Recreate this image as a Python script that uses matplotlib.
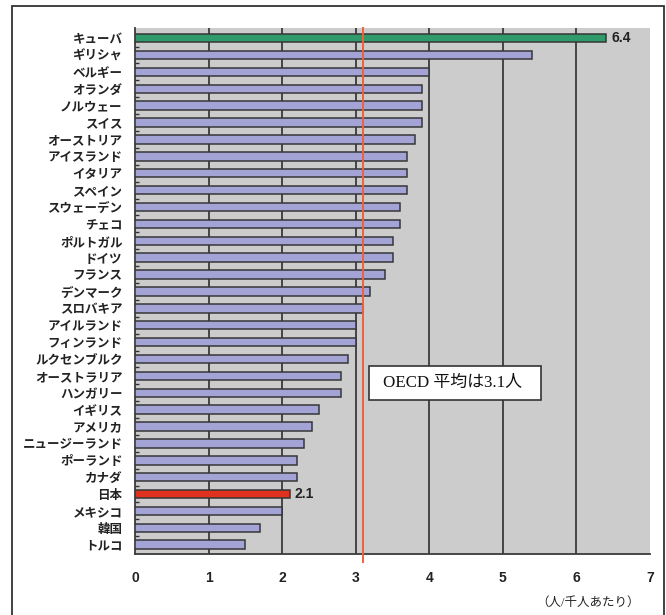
import matplotlib
matplotlib.use("Agg")
import matplotlib.pyplot as plt
from matplotlib.patches import Rectangle

plt.rcParams['font.family'] = ['Noto Sans CJK JP', 'DejaVu Sans']

countries = ["キューバ", "ギリシャ", "ベルギー", "オランダ", "ノルウェー", "スイス",
             "オーストリア", "アイスランド", "イタリア", "スペイン", "スウェーデン", "チェコ",
             "ポルトガル", "ドイツ", "フランス", "デンマーク", "スロバキア", "アイルランド",
             "フィンランド", "ルクセンブルク", "オーストラリア", "ハンガリー", "イギリス",
             "アメリカ", "ニュージーランド", "ポーランド", "カナダ", "日本", "メキシコ",
             "韓国", "トルコ"]
doctors = [6.4, 5.4, 4.0, 3.9, 3.9, 3.9, 3.8, 3.7, 3.7, 3.7, 3.6, 3.6, 3.5, 3.5, 3.4,
           3.2, 3.1, 3.0, 3.0, 2.9, 2.8, 2.8, 2.5, 2.4, 2.3, 2.2, 2.2, 2.1, 2.0, 1.7, 1.5]
oecd_avg = 3.1
x_ticks = [0, 1, 2, 3, 4, 5, 6, 7]
labelled = {"キューバ": "6.4", "日本": "2.1"}

colors = []
for c in countries:
    if c == "キューバ":
        colors.append("#2f9a6a")
    elif c == "日本":
        colors.append("#e0321e")
    else:
        colors.append("#a3a3d6")

fig = plt.figure(figsize=(6.66, 6.15), dpi=100)
ax = fig.add_axes([135 / 666, 61 / 615, 515 / 666, 526 / 615])
ax.set_facecolor("#cccccc")

pos = list(range(len(countries)))
ax.barh(pos, doctors, height=0.5, color=colors, edgecolor="#363636", linewidth=1.1, zorder=3)

for i, (c, v) in enumerate(zip(countries, doctors)):
    if c in labelled:
        ax.text(v + 0.07, i, labelled[c], va="center", ha="left", fontsize=10,
                fontweight="bold", family="Liberation Sans", color="#222222", zorder=4)

# average line, running a little below the axis
ax.plot([oecd_avg, oecd_avg], [-0.6, 31.05], color="#f0603a", linewidth=1.4,
        zorder=4, clip_on=False)

# note box for the average
ax.add_patch(Rectangle((3.18, 19.41), 2.34, 2.01, facecolor="white", edgecolor="#333333",
                       linewidth=1.2, zorder=5))
ax.text(4.32, 20.4, "OECD 平均は3.1人", ha="center", va="center", fontsize=12.2,
        family=["Liberation Serif", "Noto Sans CJK JP"], color="#111111", zorder=6)

ax.set_xlim(0, 7)
ax.set_ylim(30.55, -0.6)
ax.set_xticks(x_ticks)
ax.set_xticklabels([str(t) for t in x_ticks], fontsize=10, fontweight="bold",
                   family="Liberation Sans", color="#222222")
ax.tick_params(axis="x", length=0, pad=12)
ax.set_yticks(pos)
ax.set_yticklabels(countries, fontsize=9, fontweight="bold", color="#222222")
ax.tick_params(axis="y", length=0, pad=9)
ax.set_yticks([p + 0.5 for p in pos[:-1]], minor=True)
ax.tick_params(axis="y", which="minor", direction="in", length=3, width=1, color="#333333")

for t in x_ticks[1:-1]:
    ax.axvline(t, color="#3a3a3a", linewidth=1.3, zorder=2)

for side in ["top", "right"]:
    ax.spines[side].set_visible(False)
for side in ["left", "bottom"]:
    ax.spines[side].set_color("#3a3a3a")
    ax.spines[side].set_linewidth(1.3)

fig.text(640 / 666, 1 - 603 / 615, "（人/千人あたり）", ha="right", va="center", fontsize=9,
         family=["Liberation Serif", "Noto Sans CJK JP"], color="#222222")

fig.patches.append(Rectangle((12 / 666, -0.01), 652 / 666, 1 - 6 / 615 + 0.01,
                             transform=fig.transFigure, fill=False,
                             edgecolor="#333333", linewidth=1.3))

fig.savefig("out.png", dpi=100)
